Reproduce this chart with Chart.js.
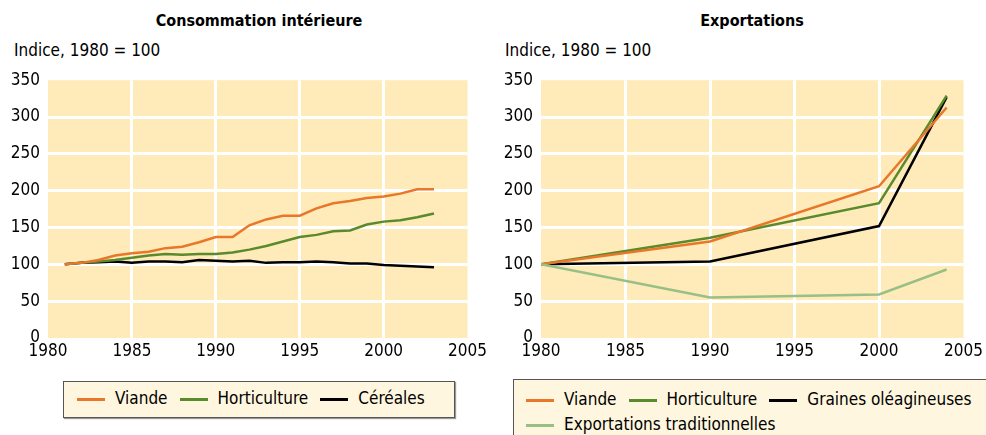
<!DOCTYPE html>
<html>
<head>
    <title>Consommation et exportations</title>
    <style>
        body {
            margin: 0;
            background: #fff;
            font-family: "Liberation Sans Narrow", "DejaVu Sans Condensed", Arial, sans-serif;
            color: #000;
        }
        .wrap { position: relative; width: 986px; height: 435px; overflow: hidden; }
        .title { position: absolute; top: 11px; font-weight: bold; font-size: 16px; text-align: center; }
        .unit { position: absolute; top: 40px; font-size: 17px; }
        .box { position: absolute; width: 490px; height: 300px; }
        .legend {
            position: absolute;
            background: #fef6de;
            border: 1px solid #555;
            box-shadow: 1px 1px 1px #999;
            font-size: 17px;
            box-sizing: border-box;
        }
        .legend span.item { display: inline-block; margin-right: 12px; white-space: nowrap; }
        .legend i { display: inline-block; width: 28px; height: 3px; vertical-align: middle; margin-right: 10px; }
    </style>
    <script src="https://cdn.jsdelivr.net/npm/chart.js"></script>
</head>
<body>
<div class="wrap">
    <div class="title" style="left:48px;width:422px;">Consommation intérieure</div>
    <div class="unit" style="left:14px;">Indice, 1980 = 100</div>
    <div class="title" style="left:541px;width:422px;">Exportations</div>
    <div class="unit" style="left:505px;">Indice, 1980 = 100</div>

    <div class="box" style="left:0;top:62px;"><canvas id="left"></canvas></div>
    <div class="box" style="left:495px;top:62px;width:491px;"><canvas id="right"></canvas></div>

    <div class="legend" id="legLeft" style="left:63px;top:381px;width:392px;height:37px;padding:6px 0 0 13px;"></div>
    <div class="legend" id="legRight" style="left:513px;top:379px;width:490px;height:70px;padding:7px 0 0 12px;line-height:25px;"></div>
</div>
<script>
    // Consommation intérieure, 1981-2003
    var yearsLeft = [1981, 1982, 1983, 1984, 1985, 1986, 1987, 1988, 1989, 1990, 1991, 1992,
                     1993, 1994, 1995, 1996, 1997, 1998, 1999, 2000, 2001, 2002, 2003];
    var viandeCons = [100, 102, 106, 112, 115, 117, 122, 124, 130, 137, 137, 153,
                      161, 166, 166, 176, 183, 186, 190, 192, 196, 202, 202];
    var hortiCons = [100, 102, 104, 106, 109, 112, 114, 113, 114, 114, 116, 120,
                     125, 131, 137, 140, 145, 146, 154, 158, 160, 164, 169];
    var cerealesCons = [100, 102, 103, 104, 102, 104, 104, 103, 106, 105, 104, 105,
                        102, 103, 103, 104, 103, 101, 101, 99, 98, 97, 96];

    // Exportations
    var yearsRight = [1980, 1990, 2000, 2004];
    var viandeExp = [100, 131, 206, 313];
    var hortiExp = [100, 136, 183, 329];
    var grainesExp = [100, 104, 152, 327];
    var tradExp = [100, 55, 59, 93];

    var xTicks = [1980, 1985, 1990, 1995, 2000, 2005];
    var yTicks = [0, 50, 100, 150, 200, 250, 300, 350];

    var colors = {
        viande: '#e8772a',
        horti: '#5a8a2c',
        noir: '#000000',
        trad: '#97bf86'
    };

    function pts(xs, ys) {
        return xs.map(function(x, i) { return { x: x, y: ys[i] }; });
    }

    var bgPlugin = {
        id: 'plotBg',
        beforeDraw: function(chart) {
            var a = chart.chartArea;
            var ctx = chart.ctx;
            ctx.save();
            ctx.fillStyle = '#feebb9';
            ctx.fillRect(a.left, a.top, a.right - a.left, a.bottom - a.top);
            ctx.restore();
        }
    };

    function gridColor(min, max) {
        return function(c) {
            if (!c.tick) return 'transparent';
            return (c.tick.value === min || c.tick.value === max) ? 'transparent' : '#ffffff';
        };
    }

    function makeChart(id, datasets, yWidth, padRight) {
        return new Chart(document.getElementById(id), {
            type: 'line',
            data: { datasets: datasets },
            options: {
                responsive: true,
                maintainAspectRatio: false,
                animation: false,
                layout: { padding: { top: 12, right: padRight, left: 0, bottom: 0 } },
                plugins: { legend: { display: false }, tooltip: { enabled: false } },
                elements: { point: { radius: 0 }, line: { borderWidth: 2.5, tension: 0 } },
                scales: {
                    x: {
                        type: 'linear', min: 1980, max: 2005,
                        afterBuildTicks: function(s) { s.ticks = xTicks.map(function(v) { return { value: v }; }); },
                        afterFit: function(s) { s.height = 24; },
                        grid: { color: gridColor(1980, 2005), lineWidth: 3, drawTicks: false },
                        border: { display: false },
                        ticks: {
                            color: '#000', padding: 3, maxRotation: 0,
                            font: { family: '"Liberation Sans Narrow", "DejaVu Sans Condensed", sans-serif', size: 17 },
                            callback: function(v) { return String(v); }
                        }
                    },
                    y: {
                        min: 0, max: 350,
                        afterBuildTicks: function(s) { s.ticks = yTicks.map(function(v) { return { value: v }; }); },
                        afterFit: function(s) { s.width = yWidth; },
                        grid: { color: gridColor(0, 350), lineWidth: 3, drawTicks: false },
                        border: { display: false },
                        ticks: {
                            color: '#000', padding: 8,
                            font: { family: '"Liberation Sans Narrow", "DejaVu Sans Condensed", sans-serif', size: 17 }
                        }
                    }
                }
            },
            plugins: [bgPlugin]
        });
    }

    makeChart('left', [
        { label: 'Viande', data: pts(yearsLeft, viandeCons), borderColor: colors.viande },
        { label: 'Horticulture', data: pts(yearsLeft, hortiCons), borderColor: colors.horti },
        { label: 'Céréales', data: pts(yearsLeft, cerealesCons), borderColor: colors.noir }
    ], 48, 20);

    makeChart('right', [
        { label: 'Exportations traditionnelles', data: pts(yearsRight, tradExp), borderColor: colors.trad },
        { label: 'Viande', data: pts(yearsRight, viandeExp), borderColor: colors.viande },
        { label: 'Horticulture', data: pts(yearsRight, hortiExp), borderColor: colors.horti },
        { label: 'Graines oléagineuses', data: pts(yearsRight, grainesExp), borderColor: colors.noir }
    ], 46, 22);

    function legendHtml(items) {
        return items.map(function(it) {
            return '<span class="item"><i style="background:' + it[1] + '"></i>' + it[0] + '</span>';
        }).join('');
    }
    document.getElementById('legLeft').innerHTML = legendHtml([
        ['Viande', colors.viande], ['Horticulture', colors.horti], ['Céréales', colors.noir]
    ]);
    document.getElementById('legRight').innerHTML = legendHtml([
        ['Viande', colors.viande], ['Horticulture', colors.horti], ['Graines oléagineuses', colors.noir]
    ]) + '<br>' + legendHtml([['Exportations traditionnelles', colors.trad]]);
</script>
</body>
</html>
